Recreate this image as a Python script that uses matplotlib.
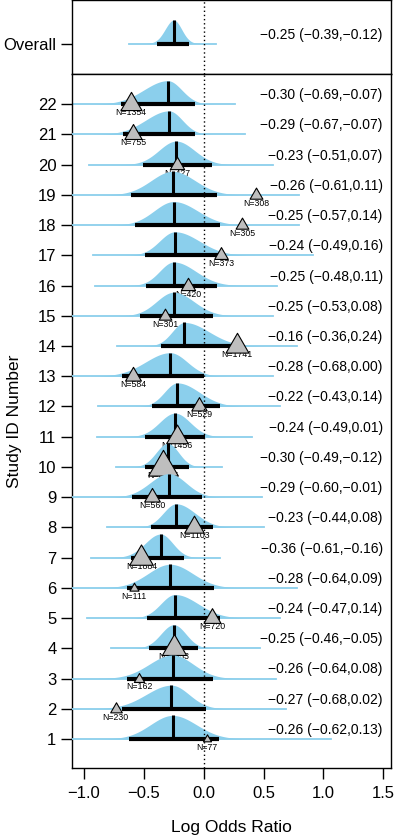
import numpy as np
import matplotlib.pyplot as plt
from matplotlib.path import Path

plt.rcParams['font.family'] = ['Liberation Sans', 'DejaVu Sans']

# study rows, bottom (1) to top (22)
study_id = list(range(1, 23))
post_median = [-0.26, -0.27, -0.26, -0.25, -0.24, -0.28, -0.36, -0.23, -0.29, -0.30, -0.24,
               -0.22, -0.28, -0.16, -0.25, -0.25, -0.24, -0.25, -0.26, -0.23, -0.29, -0.30]
post_lower = [-0.62, -0.68, -0.64, -0.46, -0.47, -0.64, -0.61, -0.44, -0.60, -0.49, -0.49,
              -0.43, -0.68, -0.36, -0.53, -0.48, -0.49, -0.57, -0.61, -0.51, -0.67, -0.69]
post_upper = [0.13, 0.02, 0.08, -0.05, 0.14, 0.09, -0.16, 0.08, -0.01, -0.12, 0.01,
              0.14, 0.00, 0.24, 0.08, 0.11, 0.16, 0.14, 0.11, 0.07, -0.07, -0.07]
# extent of the posterior density tails
tail_lo = [-1.1, -1.1, -1.1, -0.77, -0.97, -1.1, -0.94, -0.81, -1.1, -0.73, -0.89,
           -0.88, -1.1, -0.72, -1.1, -0.91, -0.92, -1.1, -1.1, -0.955, -1.1, -1.1]
tail_hi = [1.06, 0.69, 0.60, 0.47, 0.64, 0.78, 0.14, 0.50, 0.49, 0.15, 0.40,
           0.64, 0.58, 0.78, 0.58, 0.61, 0.915, 0.80, 0.80, 0.58, 0.345, 0.26]
# observed log odds ratio and sample size
obs_lor = [0.025, -0.735, -0.54, -0.25, 0.07, -0.58, -0.52, -0.08, -0.43, -0.34, -0.22,
           -0.04, -0.59, 0.28, -0.32, -0.13, 0.145, 0.32, 0.44, -0.22, -0.59, -0.61]
n_subj = [77, 230, 162, 2053, 720, 111, 1884, 1103, 560, 3837, 1456,
          529, 584, 1741, 301, 420, 373, 305, 308, 427, 755, 1354]

overall_median = -0.25
overall_lower = -0.39
overall_upper = -0.12
overall_tail = (-0.62, 0.10)

x_ticks = [-1.0, -0.5, 0.0, 0.5, 1.0, 1.5]

blue = '#8BCFEC'
peak = 0.78

# triangle with its centroid at the origin
tri = Path([(0, 1.155), (-1, -0.577), (1, -0.577), (0, 1.155)],
           [Path.MOVETO, Path.LINETO, Path.LINETO, Path.CLOSEPOLY])


def fmt(v):
    return f"{v:.2f}".replace('-', '\u2212')


def density(med, lo, hi, t_lo, t_hi):
    x = np.linspace(t_lo, t_hi, 500)
    sd = np.where(x < med, (med - lo) / 1.96, (hi - med) / 1.96)
    return x, peak * np.exp(-0.5 * ((x - med) / sd) ** 2)


def draw_row(ax, y0, med, lo, hi, t_lo, t_hi, z):
    x, d = density(med, lo, hi, t_lo, t_hi)
    ax.fill_between(x, y0, y0 + d, color=blue, lw=0, zorder=z)
    ax.plot([t_lo, t_hi], [y0, y0], color=blue, lw=1.3, zorder=z)
    ax.plot([lo, hi], [y0, y0], color='black', lw=3.0, solid_capstyle='butt', zorder=z + 0.1)
    ax.plot([med, med], [y0, y0 + peak], color='black', lw=2.2, solid_capstyle='butt', zorder=z + 0.2)
    ax.text(1.495, y0 + 0.3, f"{fmt(med)} ({fmt(lo)},{fmt(hi)})", ha='right', va='center',
            fontsize=10, zorder=z + 0.5)


fig = plt.figure(figsize=(3.96, 8.38), dpi=100)
ax0 = fig.add_axes([0.181, 1 - 74 / 838, 0.806, 73.5 / 838])
ax = fig.add_axes([0.181, 1 - 768 / 838, 0.806, 694 / 838])

# overall panel
draw_row(ax0, 0, overall_median, overall_lower, overall_upper, overall_tail[0], overall_tail[1], 2)
ax0.axvline(0, color='black', ls=(0, (1, 2)), lw=1, zorder=50)
ax0.set_xlim(-1.102, 1.563)
ax0.set_ylim(-1.015, 1.432)
ax0.set_xticks([])
ax0.set_yticks([0])
ax0.set_yticklabels(['Overall'])

# study panel, drawn from the top row down so lower rows sit on top
for i in range(len(study_id) - 1, -1, -1):
    y0 = study_id[i]
    z = 2 + (22 - y0) * 2
    draw_row(ax, y0, post_median[i], post_lower[i], post_upper[i], tail_lo[i], tail_hi[i], z)
    ms = 1.58 * n_subj[i] ** (1 / 3)
    ax.plot(obs_lor[i], y0, marker=tri, ms=ms, mfc='#BEBEBE', mec='black', mew=0.8,
            ls='none', zorder=z + 0.6)
    ax.text(obs_lor[i], y0 - 0.28, f"N={n_subj[i]}", ha='center', va='center',
            fontsize=6.3, zorder=z + 0.55)

ax.axvline(0, color='black', ls=(0, (1, 2)), lw=1, zorder=z + 0.4)
ax.set_xlim(-1.102, 1.563)
ax.set_ylim(0.04, 23.0)
ax.set_yticks(study_id)
ax.set_yticklabels([str(s) for s in study_id])
ax.set_xticks(x_ticks)
ax.set_xticklabels([f"{v:.1f}".replace('-', '\u2212') for v in x_ticks])

for a in (ax0, ax):
    a.tick_params(axis='y', length=8, width=1, labelsize=12, pad=3)
    a.tick_params(axis='x', length=8, width=1, labelsize=12, pad=5)
    for s in a.spines.values():
        s.set_linewidth(1)

fig.text(0.5846, 1 - 827 / 838, 'Log Odds Ratio', ha='center', va='center', fontsize=12.5)
fig.text(15 / 396, 1 - 421 / 838, 'Study ID Number', ha='center', va='center',
         rotation=90, fontsize=12.5)

fig.savefig('out.png', dpi=100)
